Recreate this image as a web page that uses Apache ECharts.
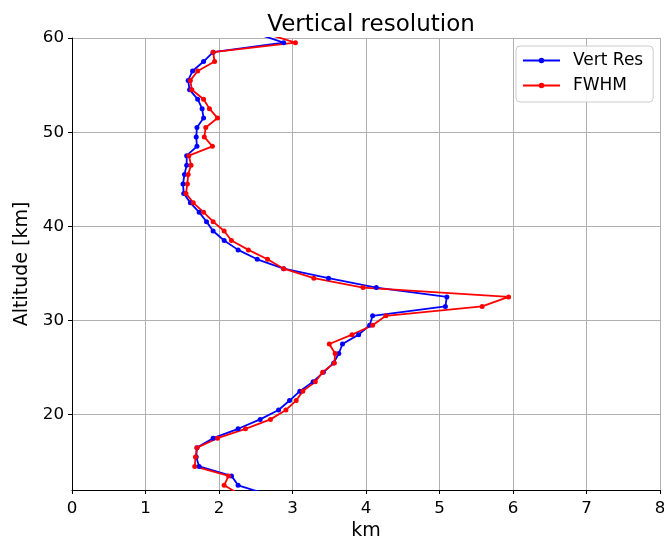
<!DOCTYPE html>
<html>
<head>
<meta charset="utf-8">
<script src="https://cdn.jsdelivr.net/npm/echarts@6/dist/echarts.min.js"></script>
<style>
html,body{margin:0;padding:0;background:#fff;}
#chart{width:664px;height:537px;}
</style>
</head>
<body>
<div id="chart"></div>
<script>
const altitudes = [60.5, 59.5, 58.5, 57.5, 56.5, 55.5, 54.5, 53.5, 52.5, 51.5,
  50.5, 49.5, 48.5, 47.5, 46.5, 45.5, 44.5, 43.5, 42.5, 41.5,
  40.5, 39.5, 38.5, 37.5, 36.5, 35.5, 34.5, 33.5, 32.5, 31.5,
  30.5, 29.5, 28.5, 27.5, 26.5, 25.5, 24.5, 23.5, 22.5, 21.5,
  20.5, 19.5, 18.5, 17.5, 16.5, 15.5, 14.5, 13.5, 12.5, 11.5];

const vertRes = [2.50, 2.88, 1.92, 1.79, 1.64, 1.58, 1.60, 1.71, 1.77, 1.79,
  1.70, 1.69, 1.70, 1.56, 1.56, 1.53, 1.51, 1.52, 1.61, 1.73,
  1.83, 1.92, 2.07, 2.26, 2.52, 2.88, 3.49, 4.14, 5.10, 5.08,
  4.09, 4.05, 3.90, 3.68, 3.63, 3.56, 3.42, 3.28, 3.10, 2.96,
  2.81, 2.56, 2.26, 1.92, 1.70, 1.69, 1.73, 2.17, 2.26, 2.67];

const fwhm = [2.63, 3.04, 1.92, 1.94, 1.71, 1.61, 1.63, 1.79, 1.87, 1.98,
  1.82, 1.80, 1.91, 1.59, 1.62, 1.58, 1.57, 1.55, 1.65, 1.79,
  1.92, 2.07, 2.17, 2.40, 2.66, 2.88, 3.29, 3.96, 5.94, 5.58,
  4.27, 4.09, 3.81, 3.50, 3.58, 3.57, 3.41, 3.31, 3.14, 3.05,
  2.91, 2.70, 2.36, 1.98, 1.70, 1.68, 1.67, 2.13, 2.07, 2.29];

const seriesNames = ['Vert Res', 'FWHM'];
const xTicks = [0, 1, 2, 3, 4, 5, 6, 7, 8];

const FONT = 'DejaVu Sans';
const chart = echarts.init(document.getElementById('chart'), null, {renderer: 'canvas'});

function pairs(xs) { return xs.map((v, i) => [v, altitudes[i]]); }

const option = {
  animation: false,
  backgroundColor: '#ffffff',
  title: {
    text: 'Vertical resolution',
    left: 366, top: 9, textAlign: 'center',
    textStyle: {fontFamily: FONT, fontSize: 23, fontWeight: 'normal', color: '#000'}
  },
  grid: {left: 72, right: 4, top: 38, bottom: 47, containLabel: false, outerBoundsMode: 'none'},
  legend: {
    data: seriesNames,
    orient: 'vertical',
    left: 516, top: 46,
    padding: [6, 10, 8, 6],
    itemGap: 8,
    itemWidth: 37, itemHeight: 7,
    borderColor: '#cccccc', borderWidth: 1, borderRadius: 4,
    backgroundColor: 'rgba(255,255,255,0.85)',
    textStyle: {fontFamily: FONT, fontSize: 17, color: '#000', padding: [0, 0, 0, 8]}
  },
  xAxis: {
    type: 'value', min: 0, max: 8, interval: 1,
    name: 'km', nameLocation: 'middle', nameGap: 31,
    nameTextStyle: {fontFamily: FONT, fontSize: 19, color: '#000'},
    axisLine: {show: true, onZero: false, lineStyle: {color: '#000', width: 1}},
    axisTick: {show: true, length: 4, lineStyle: {color: '#000'}},
    axisLabel: {fontFamily: FONT, fontSize: 16.7, color: '#000', margin: 10,
      formatter: v => xTicks.includes(v) ? String(v) : ''},
    splitLine: {show: true, lineStyle: {color: '#b0b0b0', width: 1}}
  },
  yAxis: {
    type: 'value', min: 12, max: 60, splitNumber: 5,
    name: 'Altitude [km]', nameLocation: 'middle', nameGap: 33, nameRotate: 90,
    nameTextStyle: {fontFamily: FONT, fontSize: 19, color: '#000'},
    axisLine: {show: true, onZero: false, lineStyle: {color: '#000', width: 1}},
    axisTick: {show: true, length: 4, lineStyle: {color: '#000'}},
    axisLabel: {fontFamily: FONT, fontSize: 16.7, color: '#000', margin: 8, showMinLabel: false,
      formatter: v => (v % 10 === 0) ? String(v) : ''},
    splitLine: {show: true, lineStyle: {color: '#b0b0b0', width: 1}}
  },
  series: [
    {
      name: seriesNames[0], type: 'line', data: pairs(vertRes),
      symbol: 'circle', symbolSize: 5, showAllSymbol: true, clip: true,
      itemStyle: {color: '#0000ff'},
      lineStyle: {color: '#0000ff', width: 1.8}
    },
    {
      name: seriesNames[1], type: 'line', data: pairs(fwhm),
      symbol: 'circle', symbolSize: 5, showAllSymbol: true, clip: true,
      itemStyle: {color: '#ff0000'},
      lineStyle: {color: '#ff0000', width: 1.8}
    }
  ]
};
chart.setOption(option);
</script>
</body>
</html>
